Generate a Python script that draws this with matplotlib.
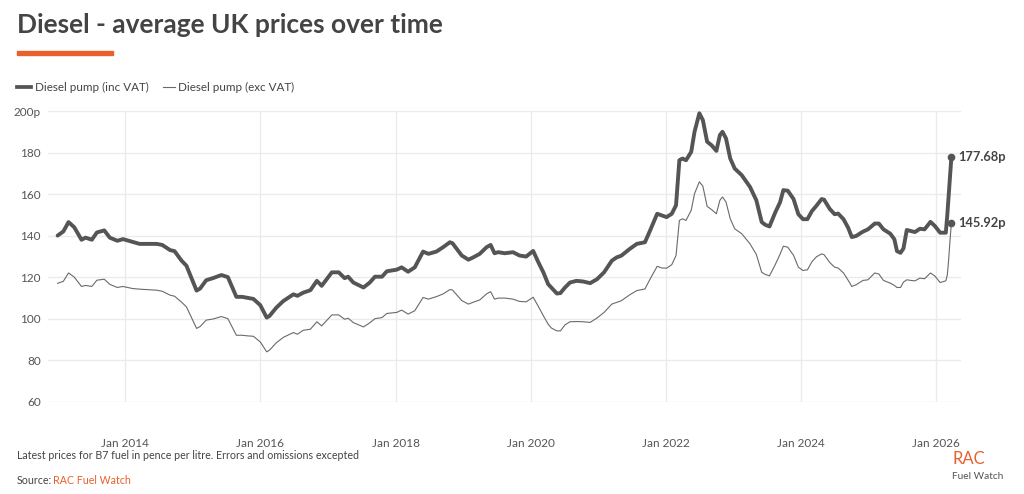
import matplotlib
matplotlib.use("Agg")
import matplotlib.pyplot as plt
import matplotlib.dates as mdates
from matplotlib.lines import Line2D
from matplotlib.patches import Rectangle
import pandas as pd

plt.rcParams['font.family'] = ['Lato', 'DejaVu Sans']

dates = [
    "2013-01-01", "2013-02-01", "2013-03-01", "2013-04-01", "2013-05-10", "2013-06-01",
    "2013-07-05", "2013-08-01", "2013-09-10", "2013-10-10", "2013-11-20", "2013-12-20",
    "2014-02-10", "2014-03-20", "2014-06-20", "2014-07-20", "2014-09-01", "2014-09-25",
    "2014-11-01", "2014-11-28", "2015-01-22", "2015-02-10", "2015-03-15", "2015-04-20",
    "2015-06-05", "2015-07-10", "2015-08-25", "2015-09-25", "2015-10-25", "2015-11-25",
    "2016-01-01", "2016-02-05", "2016-02-20", "2016-03-28", "2016-05-05", "2016-06-28",
    "2016-07-20", "2016-08-20", "2016-09-28", "2016-11-02", "2016-11-28", "2017-01-22",
    "2017-02-28", "2017-04-01", "2017-04-20", "2017-05-18", "2017-07-12", "2017-08-15",
    "2017-09-12", "2017-10-20", "2017-11-15", "2018-01-08", "2018-02-03", "2018-03-10",
    "2018-04-15", "2018-05-30", "2018-06-28", "2018-08-10", "2018-09-15", "2018-10-22",
    "2018-11-05", "2018-12-25", "2019-01-30", "2019-02-25", "2019-04-01", "2019-05-08",
    "2019-05-30", "2019-06-20", "2019-07-10", "2019-08-15", "2019-09-28", "2019-11-02",
    "2019-12-08", "2020-01-15", "2020-02-10", "2020-03-10", "2020-04-05", "2020-04-22",
    "2020-05-22", "2020-06-10", "2020-07-05", "2020-08-01", "2020-09-05", "2020-10-10",
    "2020-11-18", "2020-12-25", "2021-02-01", "2021-03-15", "2021-04-10", "2021-05-05",
    "2021-06-20", "2021-07-28", "2021-09-10", "2021-10-08", "2021-11-15", "2021-12-10",
    "2022-01-05", "2022-02-02", "2022-02-25", "2022-03-15", "2022-04-01", "2022-04-20",
    "2022-05-18", "2022-06-05", "2022-07-01", "2022-07-20", "2022-08-12", "2022-09-05",
    "2022-10-01", "2022-10-20", "2022-11-03", "2022-11-22", "2022-12-15", "2023-01-08",
    "2023-02-15", "2023-04-01", "2023-05-05", "2023-06-03", "2023-06-22", "2023-07-15",
    "2023-08-15", "2023-09-10", "2023-09-28", "2023-10-22", "2023-11-22", "2023-12-18",
    "2024-01-12", "2024-02-05", "2024-03-01", "2024-03-25", "2024-04-22", "2024-05-05",
    "2024-06-05", "2024-07-01", "2024-07-20", "2024-08-18", "2024-09-12", "2024-10-02",
    "2024-10-25", "2024-12-01", "2024-12-28", "2025-02-03", "2025-02-25", "2025-03-22",
    "2025-04-28", "2025-05-20", "2025-06-03", "2025-06-22", "2025-07-08", "2025-07-26",
    "2025-08-18", "2025-09-08", "2025-10-05", "2025-10-30", "2025-12-01", "2025-12-25",
    "2026-01-22", "2026-02-22", "2026-03-02", "2026-03-09", "2026-03-16", "2026-03-24",
]

inc_vat = [
    140, 142, 146.5, 144, 138, 139,
    138, 141.5, 142.5, 139, 137.5, 138.3,
    137, 136, 136, 135.5, 133, 132.5,
    128, 125.5, 113.5, 114.5, 118.5, 119.5,
    121, 120, 110.5, 110.5, 110, 109.5,
    106.5, 100.5, 101.3, 105.3, 108.5, 111.7,
    111, 112.5, 113.7, 118.2, 115.8, 122.3,
    122.3, 119.5, 120.2, 117.4, 115, 117.4,
    120.2, 120.2, 122.8, 123.6, 124.7, 122.6,
    124.7, 132.3, 131.2, 132.3, 134.4, 136.8,
    136.3, 130.4, 128.4, 129.5, 131.2, 134.4,
    135.5, 131.5, 132, 131.5, 132, 130.4,
    129.9, 132.6, 127.5, 122.3, 116.6, 115,
    112.1, 112.3, 115, 117.4, 118.2, 117.9,
    117.1, 119, 122.3, 127.9, 129.5, 130.3,
    133.6, 136, 136.8, 142.5, 150.5, 149.7,
    148.9, 150.5, 154.6, 176.3, 177.1, 176.3,
    180.3, 190, 198.9, 195.6, 185.2, 183.5,
    180.8, 188.4, 190, 186.8, 177.1, 172.3,
    169.1, 163.4, 157, 146.5, 145.2, 144.4,
    151.1, 156, 161.9, 161.6, 157.6, 150.3,
    147.9, 147.9, 151.9, 154.4, 157.6, 157.3,
    152.8, 150.3, 150.6, 147.9, 143.8, 139.3,
    139.8, 141.9, 143, 145.8, 145.8, 143,
    140.9, 138.2, 132.5, 131.7, 133.8, 142.7,
    142.2, 141.7, 143.3, 143, 146.6, 144.6,
    141.4, 141.4, 150, 159, 168, 177.68,
]

exc_vat = [
    117, 118, 122, 120, 115.5, 116,
    115.5, 118.5, 119, 116.5, 115, 115.5,
    114.5, 114.2, 113.7, 113.2, 111.3, 110.8,
    108, 105.7, 95.3, 96.2, 99.3, 99.8,
    101, 100, 92, 92, 91.7, 91.5,
    88.8, 84, 84.8, 88.4, 91, 93.3,
    92.5, 94.4, 94.9, 98.5, 96.5, 101.8,
    101.8, 99.7, 100.2, 98.1, 96, 98,
    100, 100.5, 102.5, 103, 104.1, 102.2,
    103.8, 110.2, 109.4, 110.6, 111.9, 114,
    113.8, 108.7, 107, 107.9, 109, 111.9,
    113, 109.4, 109.9, 109.9, 109.4, 108.3,
    108.1, 110.3, 106.2, 101.4, 97.3, 95.5,
    94.1, 94.1, 97, 98.5, 98.6, 98.5,
    98.2, 100.3, 103, 107, 107.8, 108.6,
    111.5, 113.5, 114.3, 119.1, 125.2, 124.4,
    124.3, 126, 130.4, 147.3, 148.1, 147.3,
    152.2, 160.2, 165.9, 163.8, 154.1, 152.5,
    150.5, 157, 158.6, 156.2, 148.1, 143.3,
    140.9, 136, 130.9, 122.3, 121.3, 120.6,
    126, 131, 134.9, 134.4, 130.5, 124.8,
    123.2, 123.5, 127.5, 129.8, 131.2, 130.8,
    127, 124.8, 124.4, 122, 118.5, 115.5,
    116.3, 118.4, 118.7, 122, 121.5, 118.4,
    117.1, 116, 115, 115, 117.6, 118.7,
    118.4, 118.2, 119.5, 119.2, 122, 120.5,
    117.4, 118.2, 121, 128, 137, 145.92,
]

series_names = ["Diesel pump (inc VAT)", "Diesel pump (exc VAT)"]
y_ticks = [60, 80, 100, 120, 140, 160, 180, 200]
y_labels = ["60", "80", "100", "120", "140", "160", "180", "200p"]
x_tick_years = [2014, 2016, 2018, 2020, 2022, 2024, 2026]

dark = "#555555"
thin_col = "#6a6a6a"
orange = "#e8612c"
text_col = "#444444"

d = pd.to_datetime(dates)

fig = plt.figure(figsize=(10.24, 4.94), dpi=100)
ax = fig.add_axes([48/1024, 92.3/494, 913/1024, 290.7/494])

ax.plot(d, exc_vat, color=thin_col, lw=0.8, solid_joinstyle='round')
ax.plot(d, inc_vat, color=dark, lw=2.8, solid_joinstyle='round', solid_capstyle='round')
ax.plot(d[-1], inc_vat[-1], 'o', color=dark, ms=4.5)
ax.plot(d[-1], exc_vat[-1], 'o', color=dark, ms=4.5)
ax.annotate(f"{inc_vat[-1]:.2f}p", (d[-1], inc_vat[-1]), xytext=(5, 0), textcoords='offset points',
            va='center', ha='left', fontsize=9.3, fontweight='bold', color=text_col)
ax.annotate(f"{exc_vat[-1]:.2f}p", (d[-1], exc_vat[-1]), xytext=(5, 0), textcoords='offset points',
            va='center', ha='left', fontsize=9.3, fontweight='bold', color=text_col)

ax.set_ylim(60, 200)
ax.set_xlim(pd.Timestamp("2012-11-10"), pd.Timestamp("2026-05-15"))
ax.set_yticks(y_ticks)
ax.set_yticklabels(y_labels)
ax.set_xticks([pd.Timestamp(f"{y}-01-01") for y in x_tick_years])
ax.xaxis.set_major_formatter(mdates.DateFormatter("Jan %Y"))
ax.grid(True, color="#ebebeb", lw=1)
ax.set_axisbelow(True)
for s in ax.spines.values():
    s.set_visible(False)
ax.tick_params(axis='both', length=0, labelsize=8.5, labelcolor="#555555")
ax.tick_params(axis='x', pad=26)
ax.tick_params(axis='y', pad=5)

fig.text(17/1024, 1 - 33/494, "Diesel - average UK prices over time", fontsize=19,
         fontweight='bold', color=text_col, va='baseline')
fig.patches.append(Rectangle((17/1024, 1 - 55.5/494), 96/1024, 4.5/494,
                             transform=fig.transFigure, color=orange))

ly = 1 - 87/494
fig.add_artist(Line2D([17/1024, 31/1024], [ly, ly], color=dark, lw=2.7, transform=fig.transFigure))
fig.text(35/1024, ly, series_names[0], fontsize=8.4, color=text_col, va='center')
fig.add_artist(Line2D([163/1024, 175/1024], [ly, ly], color=thin_col, lw=0.8, transform=fig.transFigure))
fig.text(178/1024, ly, series_names[1], fontsize=8.4, color=text_col, va='center')

fig.text(17/1024, 1 - 455/494, "Latest prices for B7 fuel in pence per litre. Errors and omissions excepted",
         fontsize=7.7, color=text_col, va='center')
fig.text(17/1024, 1 - 480/494, "Source:", fontsize=7.7, color=text_col, va='center')
fig.text(53/1024, 1 - 480/494, "RAC Fuel Watch", fontsize=7.7, color=orange, va='center')

fig.text(952/1024, 1 - 459/494, "RAC", fontsize=12, color=orange, va='center')
fig.text(952/1024, 1 - 476/494, "Fuel Watch", fontsize=7.3, color="#555555", va='center')

fig.savefig("out.png", dpi=100)
